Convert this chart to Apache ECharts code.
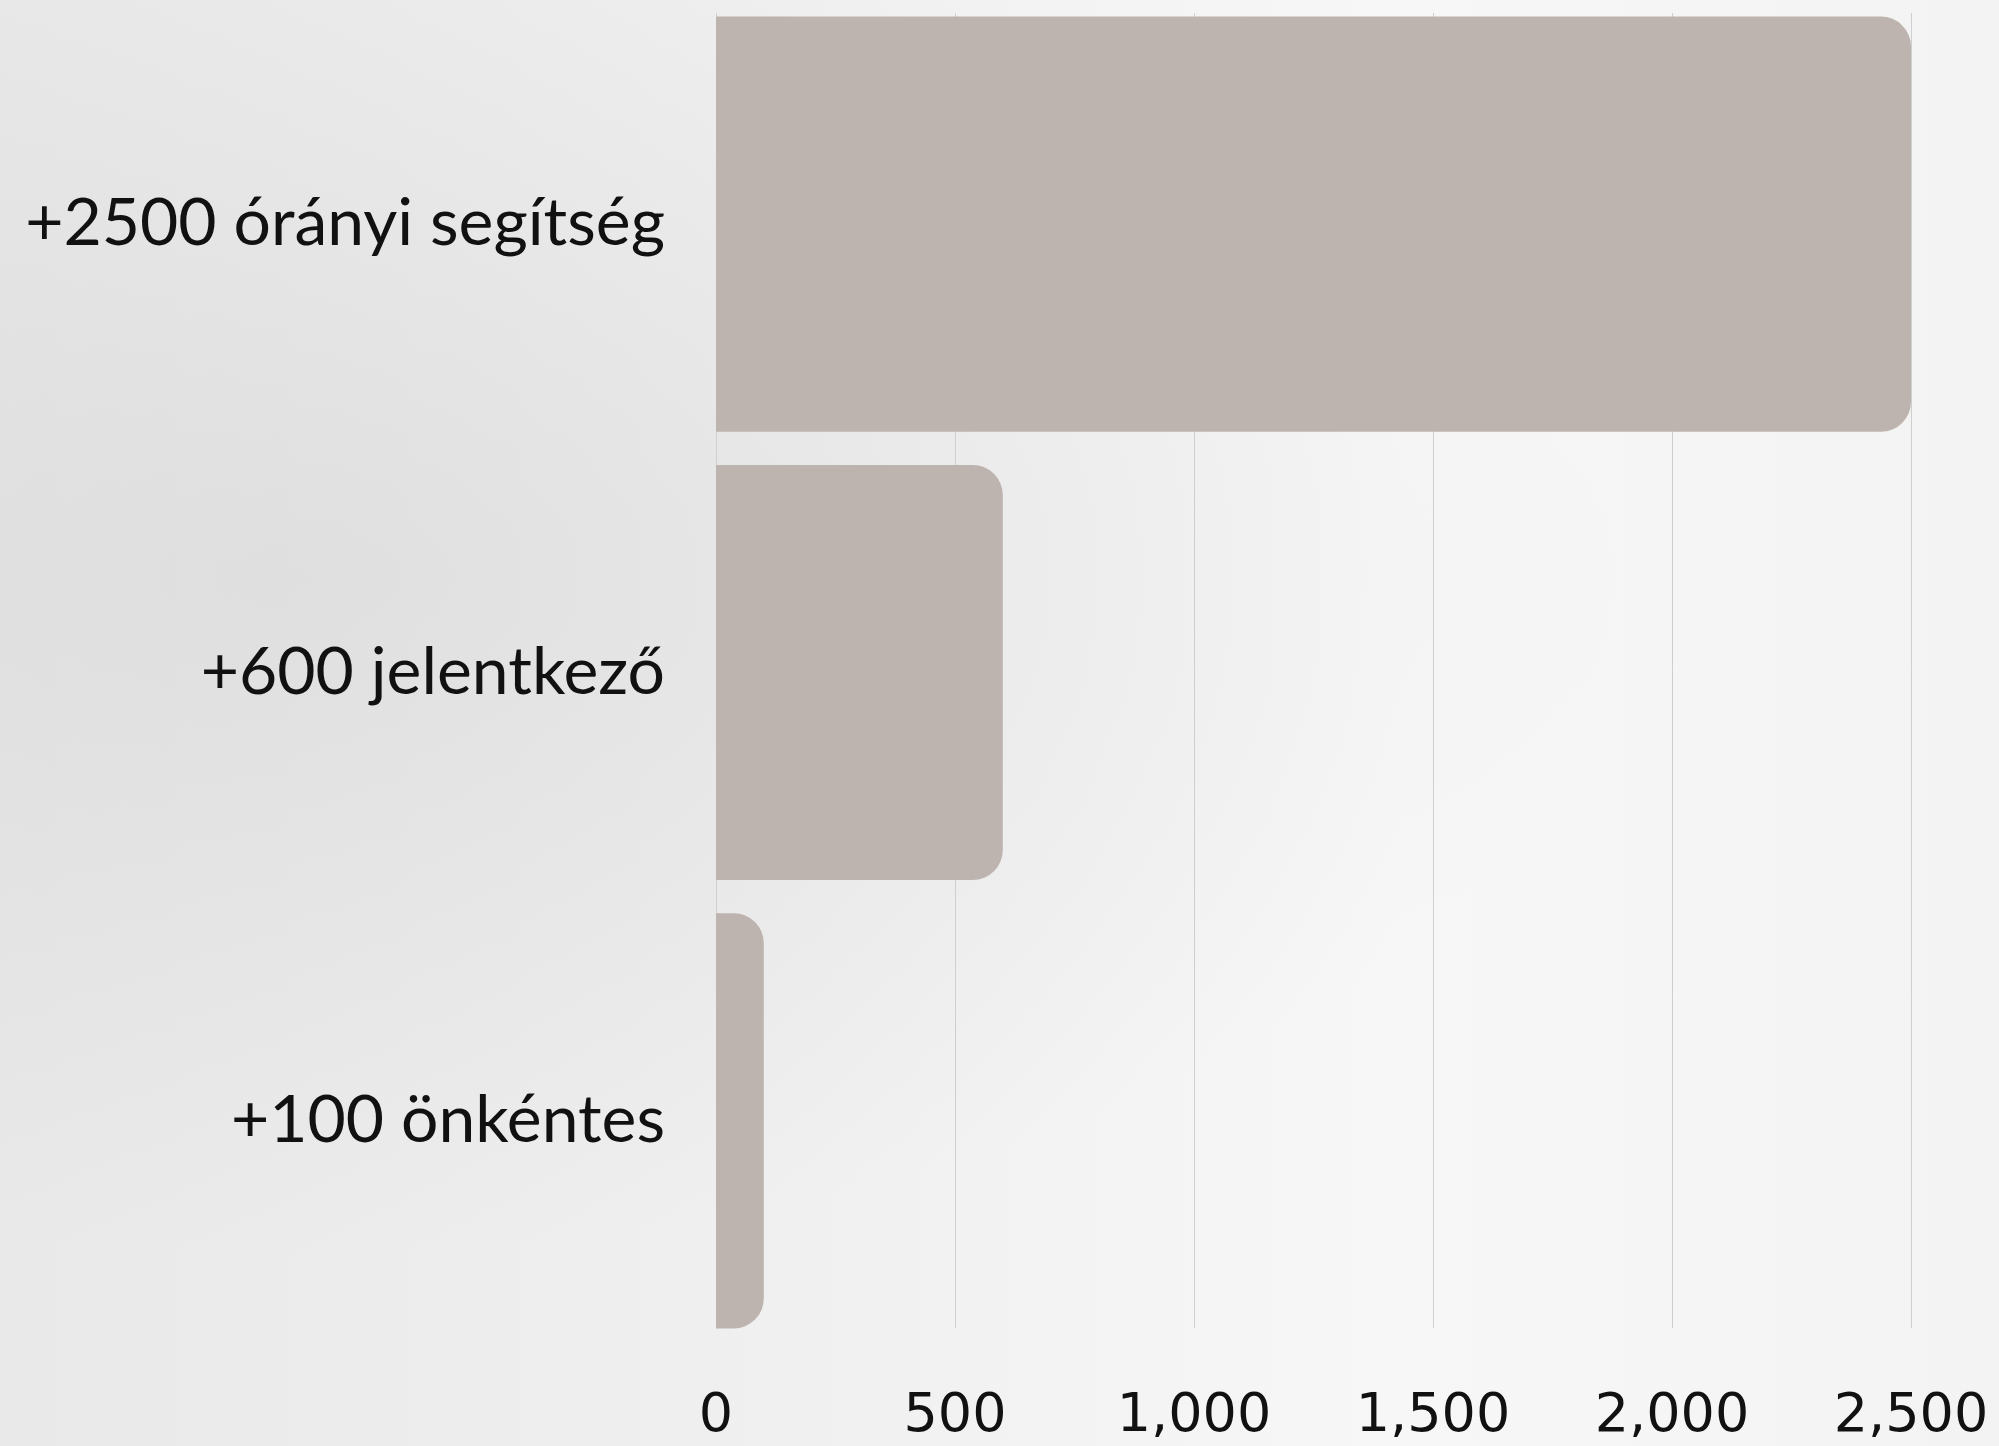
<!DOCTYPE html>
<html>
<head>
<meta charset="utf-8">
<script src="https://cdn.jsdelivr.net/npm/echarts@6/dist/echarts.min.js"></script>
<style>
html, body { margin: 0; padding: 0; }
body {
  width: 1999px; height: 1446px;
  background:
    radial-gradient(ellipse at 15% 40%, rgba(200,200,200,0.35) 0%, rgba(200,200,200,0) 55%),
    linear-gradient(90deg, #e9e9e9 0%, #efefef 35%, #f7f7f7 70%, #f3f3f3 100%);
}
#chart { width: 1999px; height: 1446px; }
</style>
</head>
<body>
<div id="chart"></div>
<script>
const categories = ['+2500 órányi segítség', '+600 jelentkező', '+100 önkéntes'];
const values = [2500, 600, 100];
const xTicks = [0, 500, 1000, 1500, 2000, 2500];

const chart = echarts.init(document.getElementById('chart'), null, { renderer: 'canvas' });
chart.setOption({
  backgroundColor: 'transparent',
  animation: false,
  grid: [
    { left: 716, right: 88, top: 13, bottom: 118 },
    { left: 716, right: 88, top: -3, bottom: 101 }
  ],
  xAxis: [
    {
      gridIndex: 0, type: 'value',
      min: xTicks[0], max: xTicks[xTicks.length - 1], interval: xTicks[1] - xTicks[0],
      axisLine: { show: false }, axisTick: { show: false },
      splitLine: { show: true, lineStyle: { color: '#cfcfcf', width: 1 } },
      axisLabel: {
        color: '#111', fontSize: 54, fontFamily: '"DejaVu Sans", sans-serif', margin: 62,
        formatter: v => v.toLocaleString('en-US')
      }
    },
    {
      gridIndex: 1, type: 'value',
      min: xTicks[0], max: xTicks[xTicks.length - 1],
      show: false
    }
  ],
  yAxis: [
    { gridIndex: 0, type: 'category', data: categories, show: false },
    {
      gridIndex: 1, type: 'category', data: categories, inverse: true,
      axisLine: { show: false }, axisTick: { show: false }, splitLine: { show: false },
      axisLabel: { color: '#111', fontSize: 66, fontFamily: 'Lato, "Noto Sans", sans-serif', margin: 51 }
    }
  ],
  series: [{
    type: 'bar',
    xAxisIndex: 1, yAxisIndex: 1,
    data: values,
    barCategoryGap: '7.4%',
    itemStyle: { color: '#bdb4af', borderRadius: [0, 30, 30, 0] }
  }]
});
</script>
</body>
</html>
